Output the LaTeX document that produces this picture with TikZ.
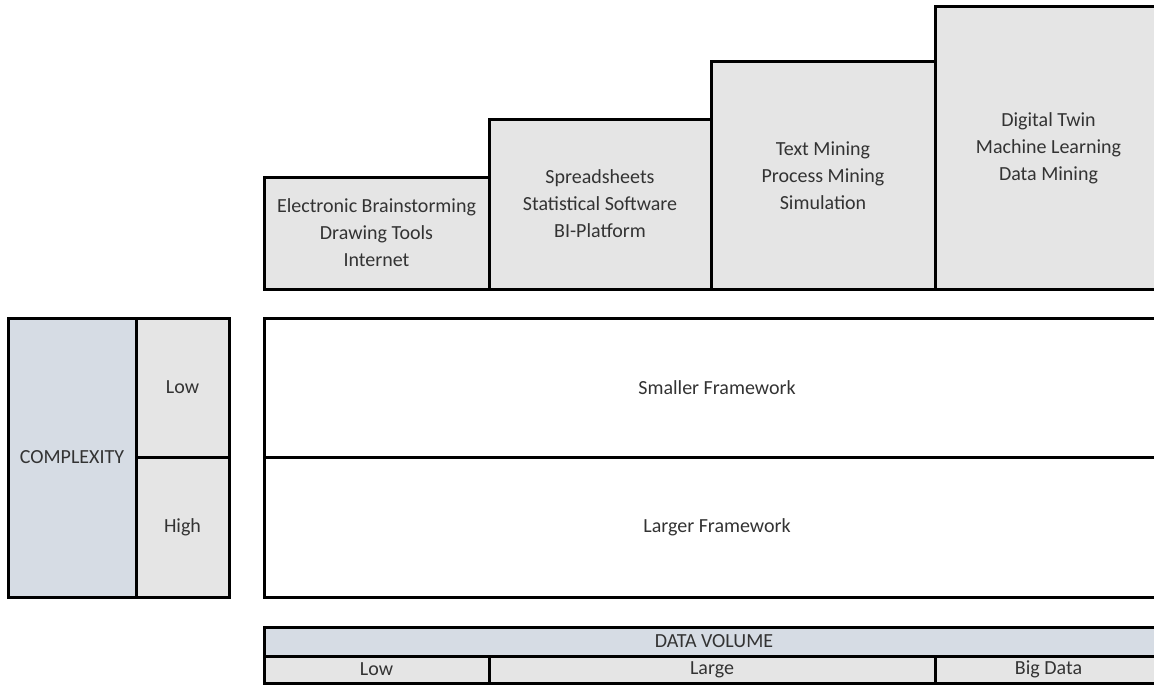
\documentclass[tikz,border=0pt]{standalone}
\usepackage{fontspec}
\setmainfont{Carlito}
\definecolor{cellgray}{HTML}{E5E5E5}
\definecolor{cellblue}{HTML}{D6DCE4}
\definecolor{inktext}{HTML}{333333}
\begin{document}
\begin{tikzpicture}[x=1pt, y=-1pt,
  cell/.style={draw=black, line width=3pt, inner sep=0pt, outer sep=0pt,
    anchor=north west, align=center, text=inktext,
    font=\fontsize{20}{27}\selectfont},
  graycell/.style={cell, fill=cellgray},
  bluecell/.style={cell, fill=cellblue},
  whitecell/.style={cell, fill=white}]
\useasboundingbox (0,0) rectangle (1154,685);
\clip (0,0) rectangle (1154,685);

% tool stairs
\node[graycell, minimum width=225pt, minimum height=112pt] (t1) at (264,177)
  {Electronic Brainstorming\\Drawing Tools\\Internet};
\node[graycell, minimum width=222pt, minimum height=170pt] (t2) at (489,119)
  {Spreadsheets\\Statistical Software\\BI-Platform};
\node[graycell, minimum width=224pt, minimum height=227pt] (t3) at (711,62)
  {Text Mining\\Process Mining\\Simulation};
\node[graycell, minimum width=227pt, minimum height=282pt] (t4) at (935,7)
  {Digital Twin\\Machine Learning\\Data Mining};

% complexity axis
\node[bluecell, minimum width=128pt, minimum height=279pt] (cx) at (8,318) {COMPLEXITY};
\node[graycell, minimum width=93pt, minimum height=139pt] (clow) at (136,318) {Low};
\node[graycell, minimum width=93pt, minimum height=140pt] (chigh) at (136,457) {High};

% frameworks
\node[whitecell, minimum width=906pt, minimum height=139pt] (fs) at (264,318) {Smaller Framework};
\node[whitecell, minimum width=906pt, minimum height=140pt] (fl) at (264,457) {Larger Framework};

% data volume axis
\node[bluecell, minimum width=900pt, minimum height=29pt] (dv) at (264,627) {DATA VOLUME};
\node[graycell, minimum width=225pt, minimum height=27pt] (dlow) at (264,656) {Low};
\node[graycell, minimum width=446pt, minimum height=27pt] (dlarge) at (489,656) {Large};
\node[graycell, minimum width=227pt, minimum height=27pt] (dbig) at (935,656) {Big Data};
\end{tikzpicture}
\end{document}
